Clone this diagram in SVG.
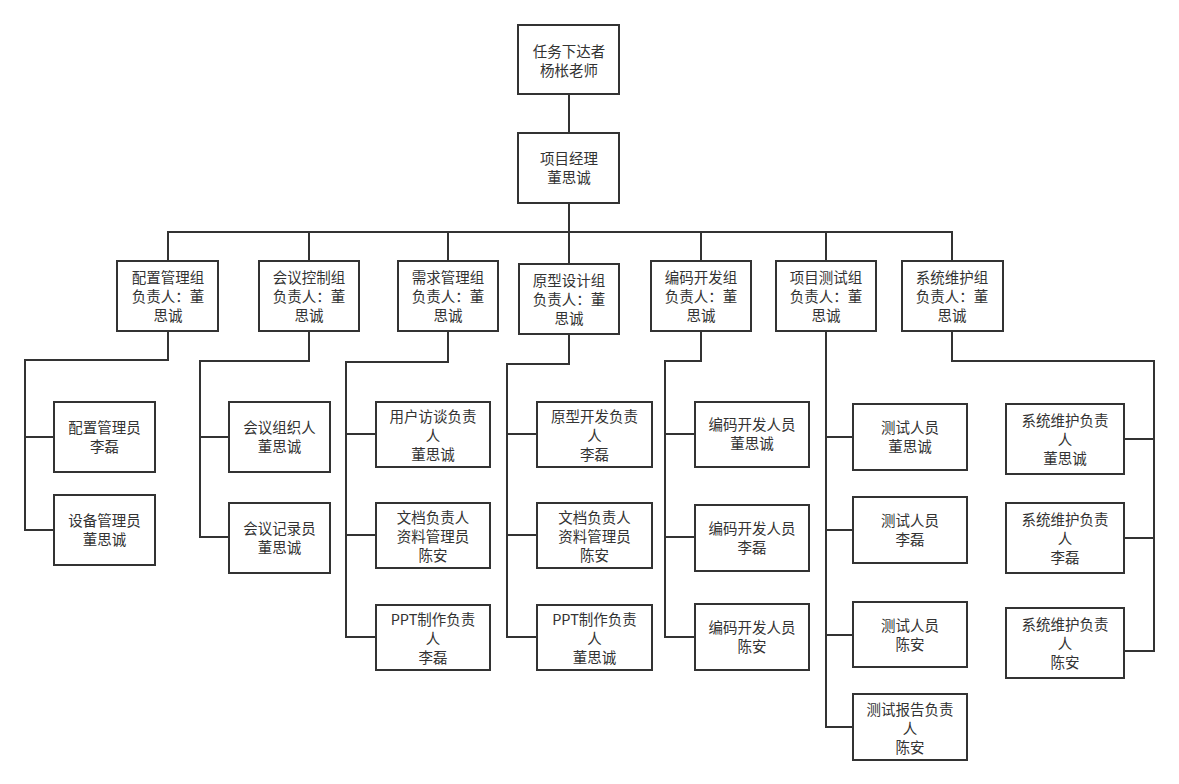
<svg xmlns="http://www.w3.org/2000/svg" width="1179" height="784" viewBox="0 0 1179 784">
<style>
.b{fill:#fff;stroke:#333;stroke-width:2}
.t{font-family:"Noto Sans CJK SC","Liberation Sans",sans-serif;font-size:14.5px;fill:#333;text-anchor:middle}
.c{fill:none;stroke:#333;stroke-width:2}
</style>
<rect width="1179" height="784" fill="#fff"/>
<g id="connectors" class="c">
<path d="M569 94V133"/>
<path d="M569 203V232"/>
<path d="M168 261V232H952V261M309 232V261M448 232V261M569 232V264M701 232V261M826 232V261"/>
<path d="M168 331V360H25V530H54M25 437H54"/>
<path d="M309 331V361H200V537H229M200 437H229"/>
<path d="M448 331V362H346V637H376M346 434H376M346 535H376"/>
<path d="M569 334V364H507V637H537M507 434H537M507 535H537"/>
<path d="M701 331V361H665V637H695M665 434H695M665 537H695"/>
<path d="M826 331V727H853M826 437H853M826 530H853M826 635H853"/>
<path d="M952 331V361H1154V651H1124M1154 439H1124M1154 538H1124"/>
</g>
<g id="n0"><rect class="b" x="518" y="25" width="101" height="69"/><text class="t" x="569" y="57">任务下达者</text><text class="t" x="569" y="76">杨枨老师</text></g>
<g id="n1"><rect class="b" x="518" y="133" width="101" height="70"/><text class="t" x="569" y="164">项目经理</text><text class="t" x="569" y="183">董思诚</text></g>
<g id="g1"><rect class="b" x="117" y="261" width="101" height="70"/><text class="t" x="168" y="283">配置管理组</text><text class="t" x="168" y="302">负责人：董</text><text class="t" x="168" y="321">思诚</text></g>
<g id="g2"><rect class="b" x="259" y="261" width="100" height="70"/><text class="t" x="309" y="283">会议控制组</text><text class="t" x="309" y="302">负责人：董</text><text class="t" x="309" y="321">思诚</text></g>
<g id="g3"><rect class="b" x="398" y="261" width="100" height="70"/><text class="t" x="448" y="283">需求管理组</text><text class="t" x="448" y="302">负责人：董</text><text class="t" x="448" y="321">思诚</text></g>
<g id="g4"><rect class="b" x="519" y="264" width="100" height="70"/><text class="t" x="569" y="286">原型设计组</text><text class="t" x="569" y="305">负责人：董</text><text class="t" x="569" y="324">思诚</text></g>
<g id="g5"><rect class="b" x="651" y="261" width="100" height="70"/><text class="t" x="701" y="283">编码开发组</text><text class="t" x="701" y="302">负责人：董</text><text class="t" x="701" y="321">思诚</text></g>
<g id="g6"><rect class="b" x="776" y="261" width="100" height="70"/><text class="t" x="826" y="283">项目测试组</text><text class="t" x="826" y="302">负责人：董</text><text class="t" x="826" y="321">思诚</text></g>
<g id="g7"><rect class="b" x="902" y="261" width="101" height="70"/><text class="t" x="952" y="283">系统维护组</text><text class="t" x="952" y="302">负责人：董</text><text class="t" x="952" y="321">思诚</text></g>
<g id="c1a"><rect class="b" x="54" y="402" width="101" height="70"/><text class="t" x="104.5" y="433">配置管理员</text><text class="t" x="104.5" y="452">李磊</text></g>
<g id="c1b"><rect class="b" x="54" y="495" width="101" height="70"/><text class="t" x="104.5" y="526">设备管理员</text><text class="t" x="104.5" y="545">董思诚</text></g>
<g id="c2a"><rect class="b" x="229" y="402" width="101" height="70"/><text class="t" x="279.5" y="433">会议组织人</text><text class="t" x="279.5" y="452">董思诚</text></g>
<g id="c2b"><rect class="b" x="229" y="503" width="101" height="70"/><text class="t" x="279.5" y="534">会议记录员</text><text class="t" x="279.5" y="553">董思诚</text></g>
<g id="c3a"><rect class="b" x="376" y="402" width="114" height="65"/><text class="t" x="433" y="422">用户访谈负责</text><text class="t" x="433" y="441">人</text><text class="t" x="433" y="460">董思诚</text></g>
<g id="c3b"><rect class="b" x="376" y="503" width="114" height="65"/><text class="t" x="433" y="523">文档负责人</text><text class="t" x="433" y="542">资料管理员</text><text class="t" x="433" y="561">陈安</text></g>
<g id="c3c"><rect class="b" x="376" y="605" width="114" height="65"/><text class="t" x="433" y="625">PPT制作负责</text><text class="t" x="433" y="644">人</text><text class="t" x="433" y="663">李磊</text></g>
<g id="c4a"><rect class="b" x="537" y="402" width="115" height="65"/><text class="t" x="594.5" y="422">原型开发负责</text><text class="t" x="594.5" y="441">人</text><text class="t" x="594.5" y="460">李磊</text></g>
<g id="c4b"><rect class="b" x="537" y="503" width="115" height="65"/><text class="t" x="594.5" y="523">文档负责人</text><text class="t" x="594.5" y="542">资料管理员</text><text class="t" x="594.5" y="561">陈安</text></g>
<g id="c4c"><rect class="b" x="537" y="605" width="115" height="65"/><text class="t" x="594.5" y="625">PPT制作负责</text><text class="t" x="594.5" y="644">人</text><text class="t" x="594.5" y="663">董思诚</text></g>
<g id="c5a"><rect class="b" x="695" y="402" width="114" height="65"/><text class="t" x="752" y="430">编码开发人员</text><text class="t" x="752" y="449">董思诚</text></g>
<g id="c5b"><rect class="b" x="695" y="505" width="114" height="66"/><text class="t" x="752" y="534">编码开发人员</text><text class="t" x="752" y="553">李磊</text></g>
<g id="c5c"><rect class="b" x="695" y="604" width="114" height="66"/><text class="t" x="752" y="633">编码开发人员</text><text class="t" x="752" y="652">陈安</text></g>
<g id="c6a"><rect class="b" x="853" y="404" width="114" height="66"/><text class="t" x="910" y="433">测试人员</text><text class="t" x="910" y="452">董思诚</text></g>
<g id="c6b"><rect class="b" x="853" y="497" width="114" height="66"/><text class="t" x="910" y="526">测试人员</text><text class="t" x="910" y="545">李磊</text></g>
<g id="c6c"><rect class="b" x="853" y="602" width="114" height="65"/><text class="t" x="910" y="631">测试人员</text><text class="t" x="910" y="650">陈安</text></g>
<g id="c6d"><rect class="b" x="853" y="694" width="114" height="66"/><text class="t" x="910" y="715">测试报告负责</text><text class="t" x="910" y="734">人</text><text class="t" x="910" y="753">陈安</text></g>
<g id="c7a"><rect class="b" x="1006" y="404" width="118" height="70"/><text class="t" x="1065" y="426">系统维护负责</text><text class="t" x="1065" y="445">人</text><text class="t" x="1065" y="464">董思诚</text></g>
<g id="c7b"><rect class="b" x="1006" y="503" width="118" height="70"/><text class="t" x="1065" y="525">系统维护负责</text><text class="t" x="1065" y="544">人</text><text class="t" x="1065" y="563">李磊</text></g>
<g id="c7c"><rect class="b" x="1006" y="608" width="118" height="70"/><text class="t" x="1065" y="630">系统维护负责</text><text class="t" x="1065" y="649">人</text><text class="t" x="1065" y="668">陈安</text></g>
</svg>
